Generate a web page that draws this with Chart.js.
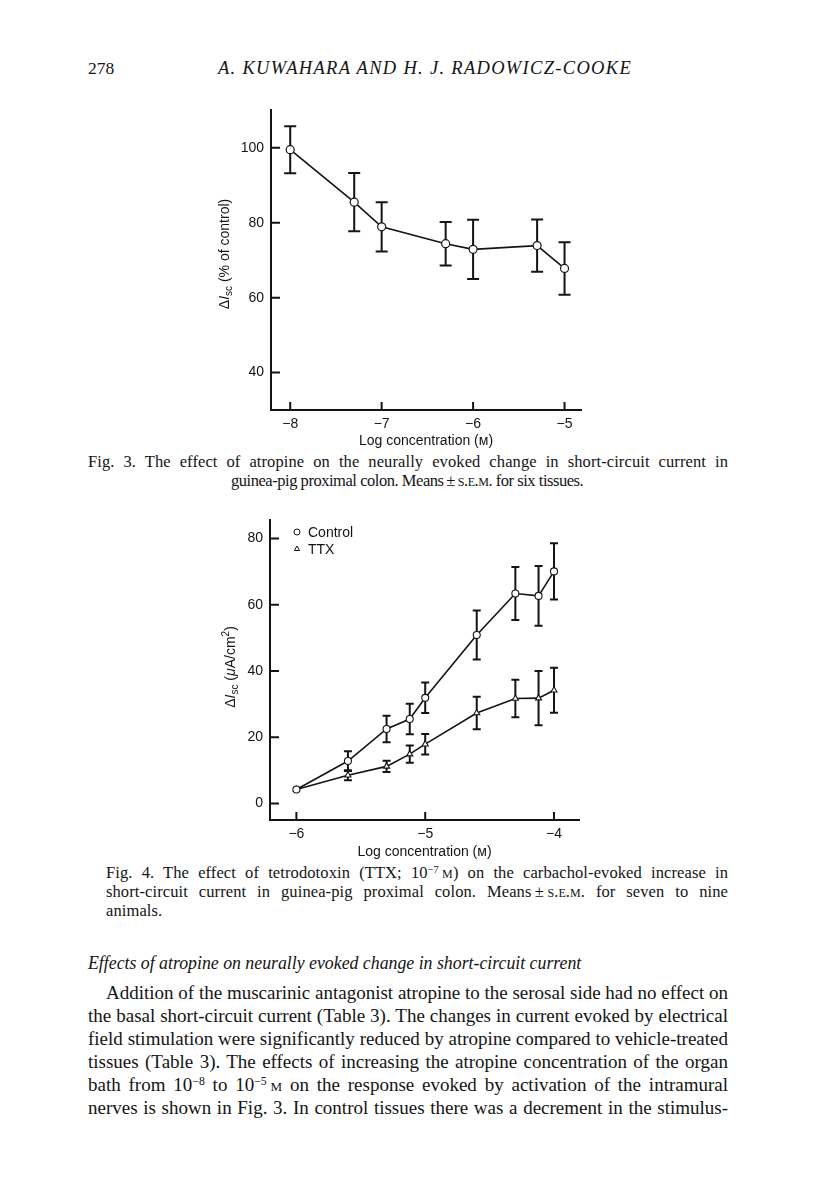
<!DOCTYPE html>
<html>
<head>
<meta charset="utf-8">
<script src="https://cdn.jsdelivr.net/npm/chart.js@4.4.1/dist/chart.umd.min.js"></script>
<style>
html, body { margin: 0; padding: 0; background: #fff; }
body { width: 816px; height: 1203px; position: relative; overflow: hidden;
       font-family: "Liberation Serif", "DejaVu Serif", serif; color: #141414; }
.ln { position: absolute; white-space: nowrap; line-height: 20px; }
.cap { font-size: 16.5px; letter-spacing: 0.1px; }
.body { font-size: 19px; }
.sc { font-variant: small-caps; }
sup { font-size: 0.62em; vertical-align: 0.5em; line-height: 0; }
canvas { position: absolute; }
</style>
</head>
<body>

<span class="ln" style="left:88px;top:58px;font-size:17.5px;">278</span>
<span class="ln" data-w="414" data-mode="ls" style="left:218px;top:58px;font-size:18.5px;font-style:italic;">A. KUWAHARA AND H. J. RADOWICZ-COOKE</span>

<canvas id="fig3" width="400" height="355" style="left:200px;top:95px;width:400px;height:355px;"></canvas>

<span class="ln cap" data-w="640" style="left:88px;top:452px;">Fig. 3. The effect of atropine on the neurally evoked change in short-circuit current in</span>
<span class="ln cap" data-w="358" data-mode="ls" style="left:231px;top:471px;">guinea-pig proximal colon. Means&#8201;±&#8201;<span class="sc">s.e.m.</span> for six tissues.</span>

<canvas id="fig4" width="400" height="356" style="left:200px;top:505px;width:400px;height:356px;"></canvas>

<span class="ln cap" data-w="622" style="left:106px;top:863px;">Fig. 4. The effect of tetrodotoxin (TTX; 10<sup>−7</sup>&#8201;<span class="sc">m</span>) on the carbachol-evoked increase in</span>
<span class="ln cap" data-w="622" style="left:106px;top:882px;">short-circuit current in guinea-pig proximal colon. Means&#8201;±&#8201;<span class="sc">s.e.m.</span> for seven to nine</span>
<span class="ln cap" style="left:106px;top:901px;">animals.</span>

<span class="ln body" style="left:88px;top:953px;font-style:italic;font-size:17.8px;">Effects of atropine on neurally evoked change in short-circuit current</span>

<span class="ln body" data-w="622" style="left:106px;top:983px;">Addition of the muscarinic antagonist atropine to the serosal side had no effect on</span>
<span class="ln body" data-w="640" style="left:88px;top:1006px;">the basal short-circuit current (Table 3). The changes in current evoked by electrical</span>
<span class="ln body" data-w="640" style="left:88px;top:1029px;">field stimulation were significantly reduced by atropine compared to vehicle-treated</span>
<span class="ln body" data-w="640" style="left:88px;top:1052px;">tissues (Table 3). The effects of increasing the atropine concentration of the organ</span>
<span class="ln body" data-w="640" style="left:88px;top:1075px;">bath from 10<sup>−8</sup> to 10<sup>−5</sup>&#8201;<span class="sc">m</span> on the response evoked by activation of the intramural</span>
<span class="ln body" data-w="640" style="left:88px;top:1098px;">nerves is shown in Fig. 3. In control tissues there was a decrement in the stimulus-</span>

<script>
// Fig. 3 – atropine, % of control
const fig3X = [-8, -7.3, -7, -6.3, -6, -5.3, -5];
const fig3Y = [99.5, 85.5, 78.9, 74.4, 72.9, 73.9, 67.8];
const fig3Sem = [6.3, 7.8, 6.6, 5.8, 7.9, 7.0, 7.0];
const fig3XTicks = [-8, -7, -6, -5];
const fig3YTicks = [40, 60, 80, 100];

// Fig. 4 – carbachol, control vs TTX
const fig4X = [-6, -5.6, -5.3, -5.12, -5, -4.6, -4.3, -4.12, -4];
const controlY = [4.2, 12.8, 22.5, 25.5, 31.9, 50.9, 63.4, 62.7, 70.1];
const controlSem = [0, 3.0, 4.0, 4.6, 4.6, 7.4, 8.0, 9.0, 8.5];
const ttxY = [4.2, 8.5, 11.2, 14.9, 17.9, 27.3, 31.7, 31.8, 34.2];
const ttxSem = [0, 1.5, 1.7, 2.6, 3.1, 4.9, 5.7, 8.2, 6.8];
const fig4XTicks = [-6, -5, -4];
const fig4YTicks = [0, 20, 40, 60, 80];

const INK = '#141414';
const SANS = '"Liberation Sans", Arial, sans-serif';

Chart.defaults.font.family = SANS;
Chart.defaults.font.size = 14;
Chart.defaults.color = INK;

const pts = (xs, ys) => xs.map((x, i) => ({ x: x, y: ys[i] }));
const minus = v => String(v).replace('-', '\u2212');

// vertical SEM bars, drawn under the lines and markers
const errorBars = {
  id: 'errorBars',
  beforeDatasetsDraw(chart, args, opts) {
    const { ctx, scales: { x, y } } = chart;
    ctx.save();
    ctx.strokeStyle = INK;
    ctx.lineWidth = 2;
    chart.data.datasets.forEach(ds => {
      if (!ds.sem) return;
      ds.data.forEach((p, i) => {
        const e = ds.sem[i];
        if (!e) return;
        const px = x.getPixelForValue(p.x);
        const top = y.getPixelForValue(p.y + e);
        const bot = y.getPixelForValue(p.y - e);
        ctx.beginPath();
        ctx.moveTo(px, top); ctx.lineTo(px, bot);
        ctx.moveTo(px - opts.cap, top); ctx.lineTo(px + opts.cap, top);
        ctx.moveTo(px - opts.cap, bot); ctx.lineTo(px + opts.cap, bot);
        ctx.stroke();
      });
    });
    ctx.restore();
  }
};

// tick marks pointing into the plot
const innerTicks = {
  id: 'innerTicks',
  afterDraw(chart) {
    const { ctx, chartArea: a, scales: { x, y } } = chart;
    ctx.save();
    ctx.strokeStyle = INK;
    ctx.lineWidth = 2;
    ctx.beginPath();
    x.ticks.forEach(t => {
      const px = x.getPixelForValue(t.value);
      ctx.moveTo(px, a.bottom); ctx.lineTo(px, a.bottom - 8);
    });
    y.ticks.forEach(t => {
      const py = y.getPixelForValue(t.value);
      ctx.moveTo(a.left, py); ctx.lineTo(a.left + 9, py);
    });
    ctx.stroke();
    ctx.restore();
  }
};

// rotated y title with italic I and subscript
const yTitle = {
  id: 'yTitle',
  afterDraw(chart, args, opts) {
    if (!opts.parts) return;
    const ctx = chart.ctx;
    const fontOf = p => (p.it ? 'italic ' : '') + (p.sub || p.sup ? 10 : 14) + 'px ' + SANS;
    let total = 0;
    opts.parts.forEach(p => { ctx.font = fontOf(p); total += ctx.measureText(p.t).width; });
    ctx.save();
    ctx.translate(opts.x, opts.y);
    ctx.rotate(-Math.PI / 2);
    ctx.fillStyle = INK;
    ctx.textBaseline = 'middle';
    let cx = -total / 2;
    opts.parts.forEach(p => {
      ctx.font = fontOf(p);
      const dy = p.sub ? 4 : (p.sup ? -5 : 0);
      ctx.fillText(p.t, cx, dy);
      cx += ctx.measureText(p.t).width;
    });
    ctx.restore();
  }
};

// small legend inside the plot area
const innerLegend = {
  id: 'innerLegend',
  afterDraw(chart, args, opts) {
    if (!opts.display) return;
    const ctx = chart.ctx;
    ctx.save();
    chart.data.datasets.forEach((ds, i) => {
      const y = opts.y + i * opts.gap;
      ctx.strokeStyle = INK;
      ctx.fillStyle = '#fff';
      Chart.helpers.drawPoint(ctx, { pointStyle: ds.pointStyle, radius: 3, borderWidth: 1 }, opts.x, y);
      ctx.fillStyle = INK;
      ctx.font = '14px ' + SANS;
      ctx.textBaseline = 'middle';
      ctx.fillText(ds.label, opts.x + 11, y + 1);
    });
    ctx.restore();
  }
};

function axes(xr, yr, xTicks, yTicks, yWidth, xHeight) {
  return {
    x: {
      type: 'linear', min: xr[0], max: xr[1],
      afterBuildTicks: s => { s.ticks = xTicks.map(v => ({ value: v })); },
      afterFit: s => { s.height = xHeight; },
      grid: { display: false, drawTicks: false },
      border: { display: true, color: INK, width: 2 },
      ticks: { padding: 6, callback: minus, color: INK },
      title: { display: true, text: ['Log concentration (\u1d0d)'], padding: 0, color: INK, font: { size: 14 } }
    },
    y: {
      type: 'linear', min: yr[0], max: yr[1],
      afterBuildTicks: s => { s.ticks = yTicks.map(v => ({ value: v })); },
      afterFit: s => { s.width = yWidth; },
      grid: { display: false, drawTicks: false },
      border: { display: true, color: INK, width: 2 },
      ticks: { padding: 7, color: INK }
    }
  };
}

new Chart(document.getElementById('fig3'), {
  type: 'scatter',
  data: {
    datasets: [{
      label: 'Atropine',
      data: pts(fig3X, fig3Y),
      sem: fig3Sem,
      showLine: true,
      borderColor: INK, borderWidth: 1.6,
      pointStyle: 'circle', pointRadius: 4,
      pointBackgroundColor: '#fff', pointBorderColor: INK, pointBorderWidth: 1.2
    }]
  },
  options: {
    responsive: false, animation: false,
    layout: { padding: { top: 5, right: 19, left: 0, bottom: 0 } },
    scales: axes([-8.21, -4.82], [30, 110], fig3XTicks, fig3YTicks, 71, 40),
    plugins: {
      legend: { display: false }, tooltip: { enabled: false },
      errorBars: { cap: 6 },
      yTitle: { x: 25, y: 159, parts: [{ t: '\u0394' }, { t: 'I', it: true }, { t: 'sc', sub: true }, { t: ' (% of control)' }] },
      innerLegend: { display: false }
    }
  },
  plugins: [errorBars, innerTicks, yTitle, innerLegend]
});

new Chart(document.getElementById('fig4'), {
  type: 'scatter',
  data: {
    datasets: [{
      label: 'Control',
      data: pts(fig4X, controlY),
      sem: controlSem,
      showLine: true,
      borderColor: INK, borderWidth: 1.6,
      pointStyle: 'circle', pointRadius: 3.5,
      pointBackgroundColor: '#fff', pointBorderColor: INK, pointBorderWidth: 1.1
    }, {
      label: 'TTX',
      data: pts(fig4X, ttxY),
      sem: ttxSem,
      showLine: true,
      borderColor: INK, borderWidth: 1.6,
      pointStyle: 'triangle', pointRadius: 3.5,
      pointBackgroundColor: '#fff', pointBorderColor: INK, pointBorderWidth: 1.1
    }]
  },
  options: {
    responsive: false, animation: false,
    layout: { padding: { top: 5, right: 21, left: 0, bottom: 0 } },
    scales: axes([-6.205, -3.806], [-5, 85.5], fig4XTicks, fig4YTicks, 70, 41),
    plugins: {
      legend: { display: false }, tooltip: { enabled: false },
      errorBars: { cap: 4 },
      yTitle: { x: 31, y: 162, parts: [{ t: '\u0394' }, { t: 'I', it: true }, { t: 'sc', sub: true }, { t: ' (' }, { t: '\u03bc', it: true }, { t: 'A/cm' }, { t: '2', sup: true }, { t: ')' }] },
      innerLegend: { display: true, x: 97, y: 27, gap: 17 }
    }
  },
  plugins: [errorBars, innerTicks, yTitle, innerLegend]
});

// stretch each printed line to its measured width
document.querySelectorAll('[data-w]').forEach(el => {
  const w = +el.dataset.w;
  const nat = el.getBoundingClientRect().width;
  const txt = el.textContent;
  if (el.dataset.mode === 'ls') {
    el.style.letterSpacing = ((w - nat) / txt.length) + 'px';
  } else {
    const spaces = (txt.match(/ /g) || []).length;
    el.style.wordSpacing = ((w - nat) / spaces) + 'px';
  }
});
</script>
</body>
</html>
